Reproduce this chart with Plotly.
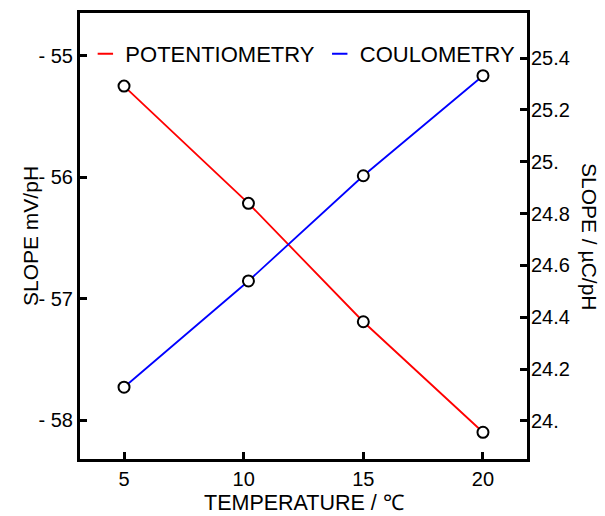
import plotly.graph_objects as go

temperature = [5, 10.2, 15, 20]
potentiometry = [-55.25, -56.215, -57.19, -58.10]
coulometry = [24.13, 24.54, 24.946, 25.332]

x_ticks = [5, 10, 15, 20]
left_ticks = [-55, -56, -57, -58]
left_ticktext = ["- 55", "- 56", "- 57", "- 58"]
right_ticks = [25.4, 25.2, 25.0, 24.8, 24.6, 24.4, 24.2, 24.0]
right_ticktext = ["25.4", "25.2", "25.", "24.8", "24.6", "24.4", "24.2", "24."]

FONT = "Liberation Sans, Arial, Helvetica, sans-serif"

fig = go.Figure()

fig.add_trace(go.Scatter(
    x=temperature, y=potentiometry, mode="lines+markers",
    line=dict(color="#ff0000", width=1.8),
    marker=dict(symbol="circle", size=11, color="white", line=dict(color="black", width=2)),
    showlegend=False, yaxis="y", cliponaxis=False))
fig.add_trace(go.Scatter(
    x=temperature, y=coulometry, mode="lines+markers",
    line=dict(color="#0000ff", width=1.8),
    marker=dict(symbol="circle", size=11, color="white", line=dict(color="black", width=2)),
    showlegend=False, yaxis="y2", cliponaxis=False))

# legend entries (short dash only)
fig.add_trace(go.Scatter(
    x=[None], y=[None], mode="markers", name="POTENTIOMETRY",
    marker=dict(symbol="line-ew-open", size=11, color="#ff0000", line=dict(color="#ff0000", width=2))))
fig.add_trace(go.Scatter(
    x=[None], y=[None], mode="markers", name="COULOMETRY",
    marker=dict(symbol="line-ew-open", size=11, color="#0000ff", line=dict(color="#0000ff", width=2))))

fig.update_layout(
    width=605, height=516,
    margin=dict(l=80, r=78, t=13, b=57, autoexpand=False),
    paper_bgcolor="white", plot_bgcolor="white",
    font=dict(family=FONT, size=20, color="black"),
    showlegend=True,
    legend=dict(orientation="h", x=0.012, xanchor="left", y=0.908, yanchor="middle",
                bgcolor="rgba(0,0,0,0)", font=dict(size=22), itemclick=False),
    xaxis=dict(range=[3.16, 21.84], tickvals=x_ticks, ticktext=[str(v) for v in x_ticks],
               ticks="inside", ticklen=7, tickwidth=3, tickcolor="black",
               showline=True, linewidth=3, linecolor="black", mirror=True,
               showgrid=False, zeroline=False, ticklabelstandoff=0, automargin=False),
    yaxis=dict(range=[-58.32, -54.648], tickvals=left_ticks, ticktext=left_ticktext,
               ticks="inside", ticklen=7, tickwidth=3, tickcolor="black",
               showline=True, linewidth=3, linecolor="black", automargin=False,
               showgrid=False, zeroline=False),
    yaxis2=dict(range=[23.853, 25.574], tickvals=right_ticks, ticktext=right_ticktext,
                overlaying="y", side="right", automargin=False,
                ticks="inside", ticklen=7, tickwidth=3, tickcolor="black",
                showline=True, linewidth=3, linecolor="black",
                showgrid=False, zeroline=False, ticklabelstandoff=-3),
    annotations=[
        dict(text="TEMPERATURE / ℃", xref="paper", yref="paper",
             x=0.5, y=0.0, yshift=-44, xanchor="center", yanchor="middle", showarrow=False,
             font=dict(family=FONT, size=21.5, color="black")),
        dict(text="SLOPE mV/pH", textangle=-90, xref="paper", yref="paper",
             x=0.0, xshift=-50, y=0.5, xanchor="center", yanchor="middle", showarrow=False,
             font=dict(family=FONT, size=21, color="black")),
        dict(text="SLOPE / µC/pH", textangle=90, xref="paper", yref="paper",
             x=1.0, xshift=63, y=0.5, xanchor="center", yanchor="middle", showarrow=False,
             font=dict(family=FONT, size=21, color="black")),
    ],
)

fig.write_html("out.html")
